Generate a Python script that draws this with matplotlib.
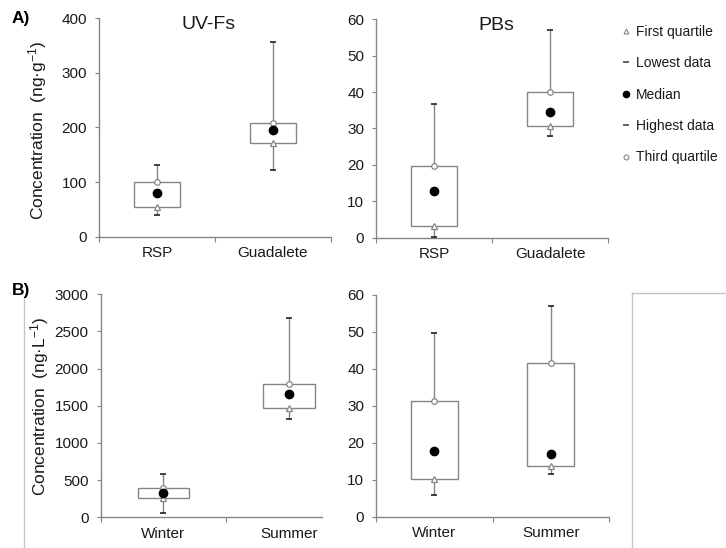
import matplotlib
matplotlib.use("Agg")
import matplotlib.pyplot as plt
from matplotlib.lines import Line2D

plt.rcParams['font.family'] = ['Liberation Sans', 'DejaVu Sans']
plt.rcParams['mathtext.default'] = 'regular'

# sediment samples (A)
sites = ["RSP", "Guadalete"]
sed_uvfs_low = [40, 123]
sed_uvfs_q1 = [53.5, 172]
sed_uvfs_med = [80.5, 195]
sed_uvfs_q3 = [99.5, 207.5]
sed_uvfs_high = [131, 357]

sed_pbs_low = [0.3, 27.9]
sed_pbs_q1 = [3.3, 30.8]
sed_pbs_med = [12.7, 34.5]
sed_pbs_q3 = [19.6, 40.1]
sed_pbs_high = [36.7, 57.1]

# water samples (B)
seasons = ["Winter", "Summer"]
wat_uvfs_low = [55, 1327]
wat_uvfs_q1 = [258, 1466]
wat_uvfs_med = [327, 1664]
wat_uvfs_q3 = [395, 1789]
wat_uvfs_high = [583, 2677]

wat_pbs_low = [6.0, 11.6]
wat_pbs_q1 = [10.2, 13.6]
wat_pbs_med = [17.8, 17.1]
wat_pbs_q3 = [31.3, 41.5]
wat_pbs_high = [49.6, 57.1]

GRAY = '#858585'
TXT = '#1a1a1a'


def draw_box(ax, cats, low, q1, med, q3, high, ymax, ystep, xmax, box_w, end_tick=True):
    pos = [i + 0.5 for i in range(len(cats))]
    heights = [b - a for a, b in zip(q1, q3)]
    ax.vlines(pos, low, q1, color=GRAY, lw=1, zorder=1)
    ax.vlines(pos, q3, high, color=GRAY, lw=1, zorder=1)
    ax.bar(pos, heights, bottom=q1, width=box_w, color='white', edgecolor=GRAY, lw=1, zorder=2)
    ax.plot(pos, low, ls='none', marker='_', ms=5, mew=1.2, color='#222222', zorder=3)
    ax.plot(pos, high, ls='none', marker='_', ms=5, mew=1.2, color='#222222', zorder=3)
    ax.plot(pos, q1, ls='none', marker='^', ms=4, mfc='white', mec=GRAY, mew=0.9, zorder=4)
    ax.plot(pos, q3, ls='none', marker='o', ms=4, mfc='white', mec=GRAY, mew=0.9, zorder=4)
    ax.plot(pos, med, ls='none', marker='o', ms=6, color='black', zorder=5)

    ax.set_xlim(0, xmax)
    ax.set_ylim(0, ymax)
    ax.set_yticks(range(0, ymax + 1, ystep))
    ax.set_xticks([0, 1, 2] if end_tick else [0, 1])
    ax.set_xticklabels([])
    ax.set_xticks(pos, minor=True)
    ax.set_xticklabels(cats, minor=True)
    ax.tick_params(axis='x', which='major', length=3.5, color=GRAY, direction='out')
    ax.tick_params(axis='x', which='minor', length=0, pad=7, labelsize=11, labelcolor=TXT)
    ax.tick_params(axis='y', length=3, color=GRAY, pad=5.5, labelsize=11, labelcolor=TXT)
    for s in ['top', 'right']:
        ax.spines[s].set_visible(False)
    for s in ['left', 'bottom']:
        ax.spines[s].set_color(GRAY)
        ax.spines[s].set_linewidth(1)


fig = plt.figure(figsize=(7.26, 5.48), dpi=100)
W, H = 726, 548


def add_ax(l, r, t, b):
    return fig.add_axes([l / W, 1 - b / H, (r - l) / W, (b - t) / H])


ax1 = add_ax(99, 331, 18.3, 236.7)
ax2 = add_ax(376, 608, 19.3, 237.7)
ax3 = add_ax(100.5, 322, 294.3, 517.3)
ax4 = add_ax(376, 609, 295, 516.7)

draw_box(ax1, sites, sed_uvfs_low, sed_uvfs_q1, sed_uvfs_med, sed_uvfs_q3, sed_uvfs_high, 400, 100, 2, 0.4)
draw_box(ax2, sites, sed_pbs_low, sed_pbs_q1, sed_pbs_med, sed_pbs_q3, sed_pbs_high, 60, 10, 2, 0.4)
draw_box(ax3, seasons, wat_uvfs_low, wat_uvfs_q1, wat_uvfs_med, wat_uvfs_q3, wat_uvfs_high, 3000, 500, 1.76, 0.41, end_tick=False)
draw_box(ax4, seasons, wat_pbs_low, wat_pbs_q1, wat_pbs_med, wat_pbs_q3, wat_pbs_high, 60, 10, 2, 0.4)

ax1.text(0.473, 0.97, "UV-Fs", transform=ax1.transAxes, ha='center', va='center', fontsize=14, color=TXT)
ax2.text(0.52, 0.97, "PBs", transform=ax2.transAxes, ha='center', va='center', fontsize=14, color=TXT)

ax1.set_ylabel("Concentration  (ng·g$^{-1}$)", fontsize=12.5, color=TXT, va='center')
ax1.yaxis.set_label_coords(-61 / 232, 0.486)
ax3.set_ylabel("Concentration  (ng·L$^{-1}$)", fontsize=12.5, color=TXT, va='center')
ax3.yaxis.set_label_coords(-60.5 / 221.5, 0.5)

# frame remnants of the original layout
FRAME = '#c4c4c4'
fig.add_artist(Line2D([10 / W, 24 / W], [1 - 293 / H, 1 - 293 / H], transform=fig.transFigure, color=FRAME, lw=1))
fig.add_artist(Line2D([24 / W, 24 / W], [1 - 293 / H, 0], transform=fig.transFigure, color=FRAME, lw=1))
fig.add_artist(Line2D([632 / W, 1], [1 - 293 / H, 1 - 293 / H], transform=fig.transFigure, color=FRAME, lw=1))
fig.add_artist(Line2D([632 / W, 632 / W], [1 - 293 / H, 0], transform=fig.transFigure, color=FRAME, lw=1))

fig.text(12 / W, 1 - 18 / H, "A)", fontsize=12.5, fontweight='bold', va='center', ha='left', color='black')
fig.text(12 / W, 1 - 290 / H, "B)", fontsize=12.5, fontweight='bold', va='center', ha='left', color='black',
         bbox=dict(facecolor='white', edgecolor='none', pad=0.5))

handles = [
    Line2D([], [], ls='none', marker='^', ms=3.5, mfc='white', mec=GRAY, mew=0.8),
    Line2D([], [], ls='none', marker='_', ms=4, mew=1.1, color='#333333'),
    Line2D([], [], ls='none', marker='o', ms=4.5, color='black'),
    Line2D([], [], ls='none', marker='_', ms=4, mew=1.1, color='#333333'),
    Line2D([], [], ls='none', marker='o', ms=3.5, mfc='white', mec=GRAY, mew=0.8),
]
labels = ["First quartile", "Lowest data", "Median", "Highest data", "Third quartile"]
fig.legend(handles, labels, loc='upper left', bbox_to_anchor=(622 / W, 1 - 25 / H), frameon=False,
           fontsize=10, handlelength=0.6, handletextpad=0.4, labelspacing=1.25, borderpad=0,
           borderaxespad=0, labelcolor=TXT)

fig.savefig("out.png", dpi=100)
